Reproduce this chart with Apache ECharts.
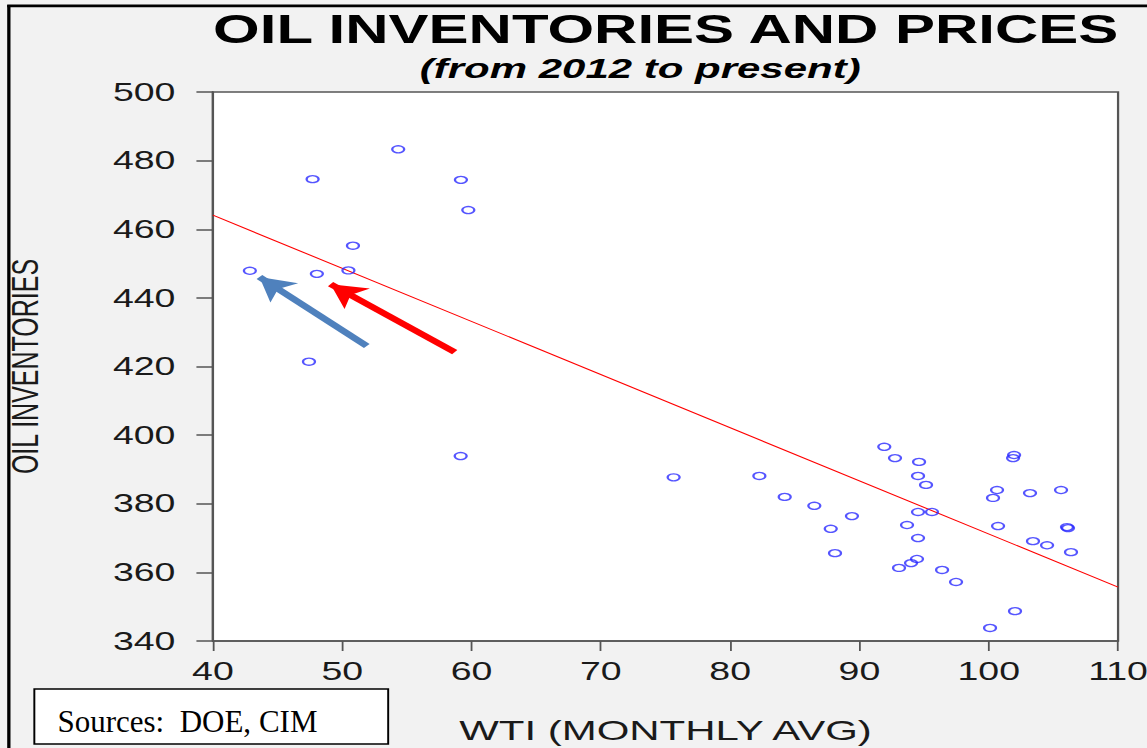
<!DOCTYPE html>
<html>
<head>
<meta charset="utf-8">
<script src="https://cdn.jsdelivr.net/npm/echarts@6/dist/echarts.min.js"></script>
<style>
html,body{margin:0;padding:0;background:#f2f2f2;overflow:hidden;width:1147px;height:748px;}
#wrap{width:765px;height:748px;transform:scaleX(1.49935);transform-origin:0 0;}
</style>
</head>
<body>
<div id="wrap"></div>
<script>
// ---- data ----
const wti = [42.86, 47.71, 54.33, 59.18, 59.75, 50.83, 48.04, 50.48, 47.43, 59.16,
  75.63, 82.26, 84.22, 86.51, 89.42, 87.78, 88.11, 91.92, 92.75,
  94.61, 94.53, 95.15, 94.53, 95.61, 93.68, 94.53, 94.45, 93.99, 93.06, 96.39, 97.47,
  101.96, 101.88, 100.64, 100.33, 100.72, 103.19, 105.59, 106.05, 106.13, 103.42, 104.51, 106.36, 102.03, 100.10];
const inventories = [447.9, 474.6, 483.3, 474.4, 465.6, 455.2, 447.0, 448.0, 421.4, 393.9,
  387.7, 388.1, 382.0, 379.4, 376.4, 372.7, 365.6, 396.6, 393.3,
  392.2, 388.1, 385.5, 377.6, 377.6, 373.8, 370.0, 363.9, 362.7, 361.3, 360.7, 357.2,
  394.2, 393.3, 384.0, 381.7, 373.5, 383.1, 384.0, 373.2, 372.9, 369.1, 367.9, 365.9, 348.7, 343.8];
const fitX = [40, 110];
const fitY = [464.1, 355.7];
const blueArrow = [[51.9, 426.0], [43.6, 446.1]];
const redArrow = [[58.7, 424.2], [49.1, 444.0]];
const xTicks = {min: 40, max: 110, step: 10};
const yTicks = {min: 340, max: 500, step: 20};
const titleText = 'OIL INVENTORIES AND PRICES';
const subtitleText = '(from 2012 to present)';
const xName = 'WTI (MONTHLY AVG)';
const yName = 'OIL INVENTORIES';
const sourceText = 'Sources:  DOE, CIM';

// ---- chart ----
const S = 1.49935; // horizontal stretch of the reference
const points = wti.map((x, i) => [x, inventories[i]]);
const fitLine = fitX.map((x, i) => [x, fitY[i]]);
const chart = echarts.init(document.getElementById('wrap'), null, {renderer: 'svg'});
const axisFont = 'Liberation Sans, Arial, sans-serif';
chart.setOption({
  animation: false,
  backgroundColor: '#f2f2f2',
  grid: {left: 142, right: 19.3, top: 92, bottom: 107, outerBoundsMode: 'none', containLabel: false,
    show: true, backgroundColor: '#ffffff', borderColor: '#555', borderWidth: 1.5},
  xAxis: {
    type: 'value', min: xTicks.min, max: xTicks.max, interval: xTicks.step,
    name: xName, nameLocation: 'middle', nameGap: 76,
    nameTextStyle: {fontFamily: axisFont, fontSize: 28, color: '#1a1a1a'},
    axisLine: {show: true, lineStyle: {color: '#555', width: 1.5}},
    axisTick: {show: true, inside: false, length: 10, lineStyle: {color: '#555', width: 1.2}},
    axisLabel: {fontFamily: axisFont, fontSize: 25, color: '#1a1a1a', margin: 18, showMaxLabel: true, showMinLabel: true, hideOverlap: false},
    splitLine: {show: false}
  },
  yAxis: {
    type: 'value', min: yTicks.min, max: yTicks.max, interval: yTicks.step,
    name: yName, nameLocation: 'middle', nameRotate: 90, nameGap: 113,
    nameTextStyle: {fontFamily: axisFont, fontSize: 25, color: '#1a1a1a'},
    axisLine: {show: true, lineStyle: {color: '#555', width: 1.5}},
    axisTick: {show: true, inside: false, length: 11, lineStyle: {color: '#555', width: 1.5}},
    axisLabel: {fontFamily: axisFont, fontSize: 25, color: '#1a1a1a', margin: 25, showMaxLabel: true, showMinLabel: true},
    splitLine: {show: false}
  },
  graphic: [
    {type: 'rect', left: 4.8, top: 5, shape: {width: 2.2, height: 760}, style: {fill: '#000'}, silent: true},
    {type: 'rect', left: 4.8, top: 4.5, shape: {width: 770, height: 2.8}, style: {fill: '#000'}, silent: true},
    {type: 'text', x: 444, y: 29, style: {text: titleText, font: 'bold 40px "Liberation Sans", Arial, sans-serif', fill: '#000', textAlign: 'center', textVerticalAlign: 'middle'}},
    {type: 'text', x: 427, y: 69, style: {text: subtitleText, font: 'italic bold 28px "Liberation Sans", Arial, sans-serif', fill: '#000', textAlign: 'center', textVerticalAlign: 'middle'}},
    {type: 'rect', shape: {x: 22.9, y: 689, width: 236, height: 55}, style: {fill: '#fff', stroke: '#000', lineWidth: 1.3}},
    {type: 'text', x: 125, y: 722, scaleX: 1 / S, style: {text: sourceText, font: '31px "Liberation Serif", "Times New Roman", serif', fill: '#000', textAlign: 'center', textVerticalAlign: 'middle'}}
  ],
  series: [
    {
      type: 'line', data: fitLine, showSymbol: false, symbol: 'none',
      lineStyle: {color: '#ff0000', width: 1}, silent: true, z: 2,
      markLine: {
        silent: true, symbol: ['none', 'arrow'], symbolSize: [20, 23], label: {show: false},
        emphasis: {disabled: true},
        data: [
          [{coord: blueArrow[0], lineStyle: {color: '#4f81bd', width: 5.5, type: 'solid'}, itemStyle: {color: '#4f81bd'}}, {coord: blueArrow[1]}],
          [{coord: redArrow[0], lineStyle: {color: '#ff0000', width: 5.5, type: 'solid'}, itemStyle: {color: '#ff0000'}}, {coord: redArrow[1]}]
        ]
      }
    },
    {
      type: 'scatter', data: points, symbol: 'circle', symbolSize: [8, 7], z: 3,
      itemStyle: {color: 'rgba(255,255,255,0)', borderColor: '#2a2aff', borderWidth: 1.4}
    }
  ]
});
</script>
</body>
</html>
